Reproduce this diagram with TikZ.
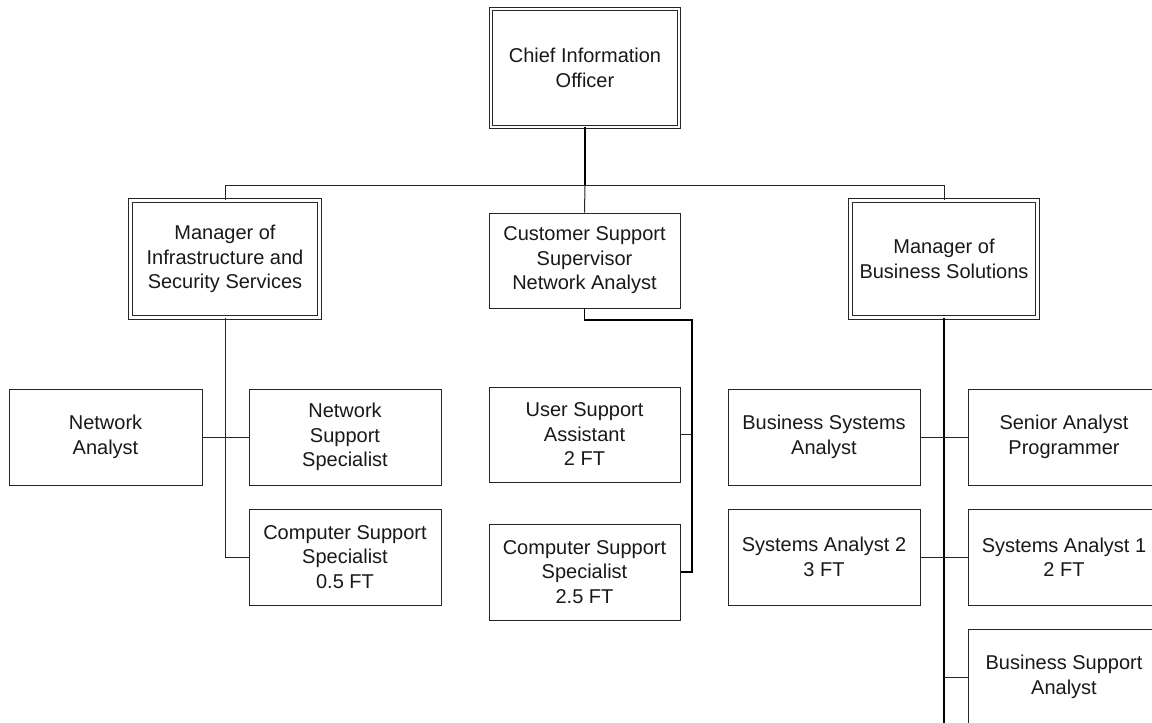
\documentclass[tikz,border=0pt]{standalone}
\usepackage{fontspec}
\setmainfont{Liberation Sans}
\begin{document}
\begin{tikzpicture}[x=1pt,y=-1pt,
  lbl/.style={font=\fontsize{20}{24.5}\selectfont, text=black!90, align=center},
  box/.style={lbl, draw=black!85, line width=1pt, fill=white, inner sep=0pt,
              minimum width=192pt, minimum height=96pt},
  dbox/.style={lbl, draw=black!85, double=white, double distance=2.4pt, line width=0.9pt,
               fill=white, inner sep=0pt},
  link/.style={draw=black!85, line width=1pt},
  heavy/.style={draw=black, line width=1.4pt},
  heavier/.style={draw=black, line width=2.2pt}]
\useasboundingbox (0,0) rectangle (1152,723);

% executive level
\node[dbox, minimum width=188pt, minimum height=118pt] (cio) at (585,68) {Chief Information\\Officer};

% managers
\node[dbox, minimum width=189pt, minimum height=117pt] (infra) at (225,259) {Manager of\\Infrastructure and\\Security Services};
\node[box, minimum width=191pt, minimum height=95pt] (csup) at (584.5,260.5) {Customer Support\\Supervisor\\Network Analyst};
\node[dbox, minimum width=187pt, minimum height=117pt] (biz) at (944,259) {Manager of\\Business Solutions};

% infrastructure staff
\node[box, minimum width=193pt] (na) at (105.5,437) {Network\\Analyst};
\node[box] (nss) at (345,437) {Network\\Support\\Specialist};
\node[box] (css05) at (345,557) {Computer Support\\Specialist\\0.5 FT};

% customer support staff
\node[box, minimum width=191pt, minimum height=95pt] (usa) at (584.5,434.5) {User Support\\Assistant\\2 FT};
\node[box, minimum width=191pt] (css25) at (584.5,572) {Computer Support\\Specialist\\2.5 FT};

% business solutions staff
\node[box] (bsa) at (824,437) {Business Systems\\Analyst};
\node[box] (sap) at (1064,437) {Senior Analyst\\Programmer};
\node[box] (sa2) at (824,557) {Systems Analyst 2\\3 FT};
\node[box] (sa1) at (1064,557) {Systems Analyst 1\\2 FT};
\node[box] (bsup) at (1064,677) {Business Support\\Analyst};

% junction points
\coordinate (bus) at (585,185);
\coordinate (csturn) at (692,320);
\coordinate (bizend) at (944,730);

% top-level connectors
\draw[heavy] (cio.south) -- (bus);
\draw[link] (bus) -- (csup.north);
\draw[link] (infra.north) -- (infra.north |- bus) -- (biz.north |- bus) -- (biz.north);

% infrastructure branch
\draw[link] (infra.south) |- (css05.west);
\draw[link] (na.east) -- (nss.west);

% customer support branch
\draw[heavy] (csup.south) |- (csturn) |- (css25.east);
\draw[link] (usa.east) -- (usa.east -| csturn);

% business solutions branch
\draw[heavier] (biz.south) -- (bizend);
\draw[link] (bsa.east) -- (sap.west);
\draw[link] (sa2.east) -- (sa1.west);
\draw[link] (biz.south |- bsup.west) -- (bsup.west);
\end{tikzpicture}
\end{document}
